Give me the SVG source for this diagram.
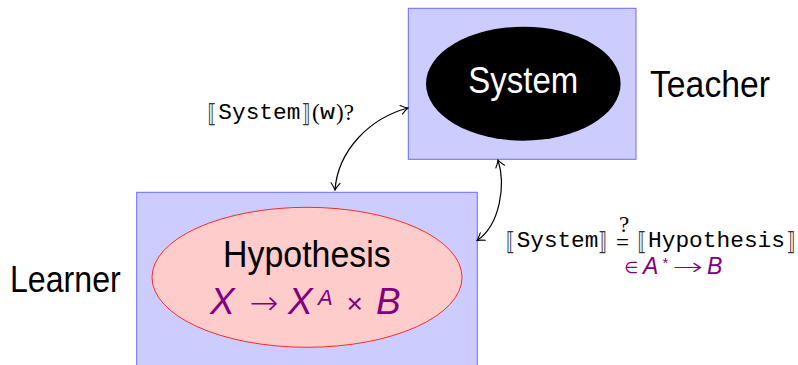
<svg xmlns="http://www.w3.org/2000/svg" width="798" height="365" viewBox="0 0 798 365">
<style>
.box{fill:#ccccff;stroke:#6b6bff;stroke-width:1}
.sans{font-family:"Liberation Sans",Arial,sans-serif}
.big{font-size:36px}
.mono{font-family:"Liberation Mono","Courier New",monospace;font-size:22.5px;fill:#000}
.br{font-family:"DejaVu Sans","Noto Sans",sans-serif;font-size:25px;fill:#333}
.ser{font-family:"Liberation Serif","Times New Roman",serif;font-size:23px;fill:#000}
.math{font-family:"Liberation Sans",Arial,sans-serif;font-style:italic;fill:#800080}
.mathu{font-family:"Liberation Sans","DejaVu Sans",sans-serif;fill:#800080}
.arr{font-family:"DejaVu Sans",sans-serif;font-weight:200;fill:#800080}
.conn{fill:none;stroke:#000;stroke-width:1.2}
</style>
<defs>
<marker id="ah" viewBox="-8 -6 10 12" markerWidth="10" markerHeight="12" refX="0" refY="0" orient="auto-start-reverse" markerUnits="userSpaceOnUse" overflow="visible">
<path d="M-7,-4.5 Q-2.5,-1 0,0 Q-2.5,1 -7,4.5" fill="none" stroke="#000" stroke-width="1.1" stroke-linecap="round"/>
</marker>
</defs>

<g id="teacher">
<rect class="box" x="408.3" y="8.3" width="227.7" height="151"/>
<ellipse cx="523.3" cy="83.7" rx="97.3" ry="57" fill="#000"/>
<text class="sans big" x="523.3" y="93" text-anchor="middle" fill="#fff" textLength="110" lengthAdjust="spacingAndGlyphs">System</text>
<text class="sans big" x="650" y="97.3" fill="#000" textLength="120" lengthAdjust="spacingAndGlyphs">Teacher</text>
</g>

<g id="learner">
<rect class="box" x="136.7" y="192.3" width="340.6" height="200"/>
<ellipse cx="307" cy="277.3" rx="155" ry="70" fill="#ffcccc" stroke="#ff2a2a" stroke-width="1"/>
<text class="sans big" x="223" y="267.3" fill="#000" textLength="167.7" lengthAdjust="spacingAndGlyphs">Hypothesis</text>
<text class="sans big" x="10" y="291.7" fill="#000" textLength="110.7" lengthAdjust="spacingAndGlyphs">Learner</text>
<text class="math" font-size="37"><tspan x="210" y="313.5">X</tspan><tspan x="288" y="313.5">X</tspan><tspan font-size="22" x="318" y="304.5">A</tspan><tspan font-style="normal" font-size="28" x="346.5" y="313">×</tspan><tspan x="376" y="313.5">B</tspan></text>
<text class="arr" font-size="33" x="249.5" y="314" textLength="29" lengthAdjust="spacingAndGlyphs">→</text>
</g>

<g id="connectors">
<path class="conn" d="M335,190 C338,150 370,118 408,108" marker-start="url(#ah)" marker-end="url(#ah)"/>
<path class="conn" d="M498,160 C506,185 500,225 477,240.5" marker-start="url(#ah)" marker-end="url(#ah)"/>
</g>

<g id="label-query">
<text class="mono"><tspan class="br" x="207.5" y="122" textLength="9" lengthAdjust="spacingAndGlyphs">⟦</tspan><tspan x="218.3" y="119.3" textLength="82" lengthAdjust="spacingAndGlyphs">System</tspan><tspan class="br" x="301.5" y="122" textLength="9" lengthAdjust="spacingAndGlyphs">⟧</tspan><tspan class="ser" x="312" y="119.5">(</tspan><tspan x="320" y="119.3" textLength="15" lengthAdjust="spacingAndGlyphs">w</tspan><tspan class="ser" x="336" y="119.5">)?</tspan></text>
</g>

<g id="label-equiv">
<text class="mono"><tspan class="br" x="506" y="250" textLength="9" lengthAdjust="spacingAndGlyphs">⟦</tspan><tspan x="516.7" y="247.3" textLength="81.6" lengthAdjust="spacingAndGlyphs">System</tspan><tspan class="br" x="598" y="250" textLength="9" lengthAdjust="spacingAndGlyphs">⟧</tspan><tspan class="ser" font-size="12" x="619" y="232">?</tspan><tspan class="ser" x="616" y="250">=</tspan><tspan class="br" x="637.5" y="250" textLength="9" lengthAdjust="spacingAndGlyphs">⟦</tspan><tspan x="648" y="247.3" textLength="137" lengthAdjust="spacingAndGlyphs">Hypothesis</tspan><tspan class="br" x="786.5" y="250" textLength="9" lengthAdjust="spacingAndGlyphs">⟧</tspan></text>
<text class="math" font-size="23"><tspan class="mathu" font-style="normal" font-size="16" x="624.5" y="273">∈</tspan><tspan x="643" y="274">A</tspan><tspan class="mathu" font-style="normal" font-size="15" x="662.5" y="268">*</tspan><tspan x="707" y="274">B</tspan></text>
<text class="arr" font-size="24" x="672.5" y="274.5" textLength="30.5" lengthAdjust="spacingAndGlyphs">→</text>
</g>
</svg>
